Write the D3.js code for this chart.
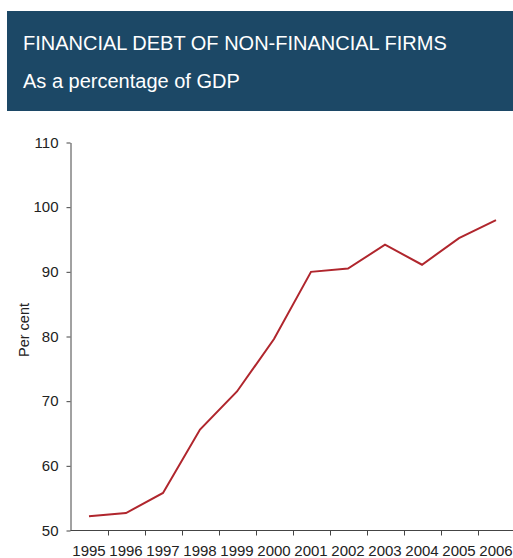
<!DOCTYPE html>
<html>
<head>
<meta charset="utf-8">
<script src="https://cdn.jsdelivr.net/npm/d3@7"></script>
<style>
  html, body { margin: 0; padding: 0; background: #fff; }
  svg { display: block; font-family: "Liberation Sans", Arial, sans-serif; }
</style>
</head>
<body>
<svg id="chart" width="513" height="558"></svg>
<script>
// Financial debt of non-financial firms, per cent of GDP
const years = ["1995", "1996", "1997", "1998", "1999", "2000", "2001", "2002", "2003", "2004", "2005", "2006"];
const debtPct = [52.2, 52.7, 55.8, 65.6, 71.5, 79.6, 90.0, 90.5, 94.2, 91.1, 95.2, 98.0];
const yTicks = [50, 60, 70, 80, 90, 100, 110];

const title = "FINANCIAL DEBT OF NON-FINANCIAL FIRMS";
const subtitle = "As a percentage of GDP";
const yLabel = "Per cent";

const svg = d3.select("#chart");

// Header band
svg.append("rect")
  .attr("x", 7).attr("y", 11)
  .attr("width", 506).attr("height", 100)
  .attr("fill", "#1c4866");

svg.append("text")
  .attr("x", 23).attr("y", 49.5)
  .attr("fill", "#fff")
  .style("font-size", "20px")
  .text(title);

svg.append("text")
  .attr("x", 23).attr("y", 87.5)
  .attr("fill", "#fff")
  .style("font-size", "20px")
  .text(subtitle);

// Scales
const x = d3.scaleBand().domain(years).range([70.5, 514.5]);
const y = d3.scaleLinear().domain([50, 110]).range([530.5, 142.5]);

const axisColor = "#444";

// Y axis
const yAxis = svg.append("g")
  .attr("transform", "translate(70.5,0)")
  .call(d3.axisLeft(y).tickValues(yTicks).tickSize(4).tickSizeOuter(0).tickPadding(8));
yAxis.select(".domain").attr("stroke", axisColor);
yAxis.selectAll(".tick line").attr("stroke", axisColor);
yAxis.selectAll(".tick text").attr("fill", "#222").style("font-size", "15px").attr("font-family", null);

// X axis: ticks on band boundaries, labels centred in bands
const xAxisG = svg.append("g").attr("transform", "translate(0,530.5)");
xAxisG.append("line")
  .attr("x1", 70.5).attr("x2", 513)
  .attr("stroke", axisColor);
const bounds = years.map(d => x(d)).concat([x(years[years.length - 1]) + x.bandwidth()]);
xAxisG.selectAll("line.tk").data(bounds.slice(1)).join("line")
  .attr("class", "tk")
  .attr("x1", d => Math.round(d) + 0.5).attr("x2", d => Math.round(d) + 0.5)
  .attr("y1", 0).attr("y2", 5)
  .attr("stroke", axisColor);
xAxisG.selectAll("text").data(years).join("text")
  .attr("x", d => x(d) + x.bandwidth() / 2)
  .attr("y", 25)
  .attr("text-anchor", "middle")
  .attr("fill", "#222")
  .style("font-size", "15px")
  .text(d => d);

// Y axis title
svg.append("text")
  .attr("transform", "translate(29,330) rotate(-90)")
  .attr("text-anchor", "middle")
  .attr("fill", "#222")
  .style("font-size", "14.5px")
  .text(yLabel);

// Debt line
const line = d3.line()
  .x((d, i) => x(years[i]) + x.bandwidth() / 2)
  .y(d => y(d));

svg.append("path")
  .datum(debtPct)
  .attr("d", line)
  .attr("fill", "none")
  .attr("stroke", "#b0262d")
  .attr("stroke-width", 2);
</script>
</body>
</html>
